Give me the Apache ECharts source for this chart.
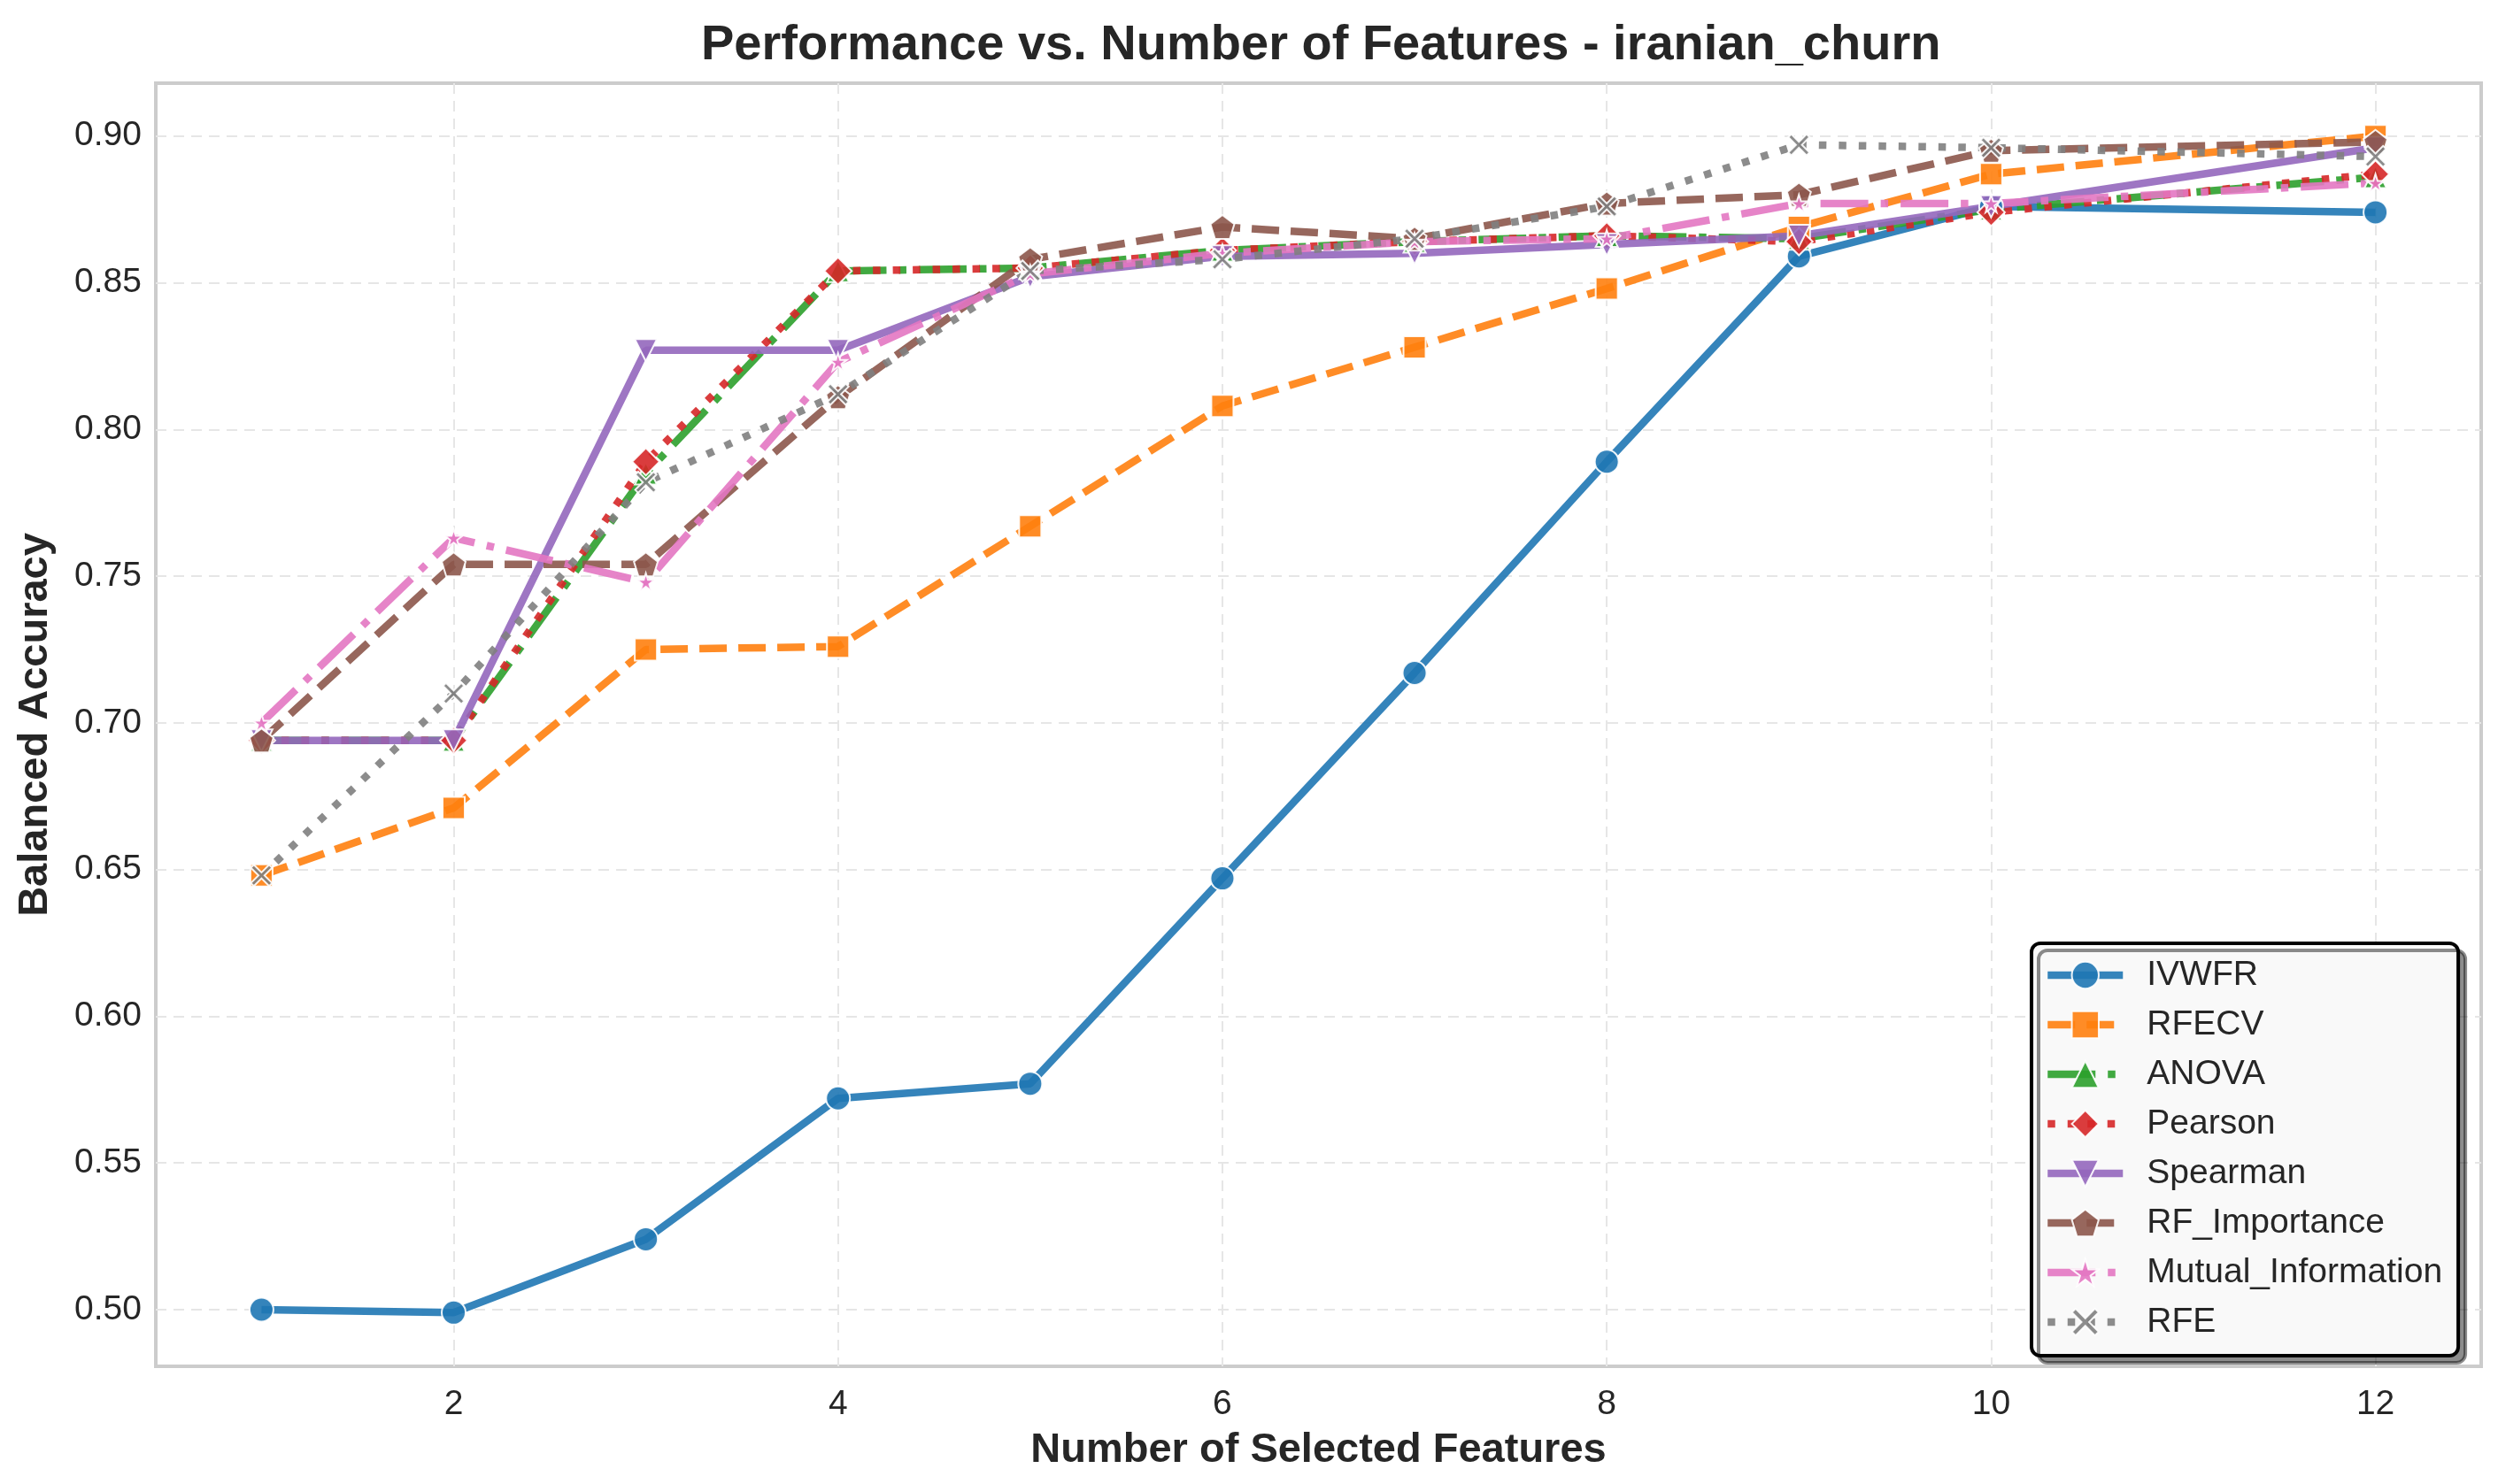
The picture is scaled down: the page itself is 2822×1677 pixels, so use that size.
<!DOCTYPE html>
<html>
<head>
<meta charset="utf-8">
<script src="https://cdn.jsdelivr.net/npm/echarts@6/dist/echarts.min.js"></script>
<style>
html,body{margin:0;padding:0;background:#fff;}
#chart{width:2822px;height:1677px;}
</style>
</head>
<body>
<div id="chart"></div>
<script>
const features = [1, 2, 3, 4, 5, 6, 7, 8, 9, 10, 12];
const IVWFR = [0.500, 0.499, 0.524, 0.572, 0.577, 0.647, 0.717, 0.789, 0.859, 0.876, 0.874];
const RFECV = [0.648, 0.671, 0.725, 0.726, 0.767, 0.808, 0.828, 0.848, 0.869, 0.887, 0.900];
const ANOVA = [0.694, 0.694, 0.785, 0.854, 0.855, 0.861, 0.864, 0.866, 0.865, 0.875, 0.886];
const Pearson = [0.694, 0.694, 0.789, 0.854, 0.855, 0.861, 0.864, 0.866, 0.864, 0.874, 0.887];
const Spearman = [0.694, 0.694, 0.827, 0.827, 0.852, 0.859, 0.860, 0.863, 0.866, 0.876, 0.896];
const RF_Importance = [0.694, 0.754, 0.754, 0.811, 0.858, 0.869, 0.865, 0.877, 0.880, 0.895, 0.898];
const Mutual_Information = [0.700, 0.763, 0.748, 0.823, 0.853, 0.860, 0.864, 0.865, 0.877, 0.877, 0.884];
const RFE = [0.648, 0.710, 0.782, 0.812, 0.854, 0.858, 0.865, 0.876, 0.897, 0.896, 0.893];
const xTicks = [2, 4, 6, 8, 10, 12];
const yTicks = [0.50, 0.55, 0.60, 0.65, 0.70, 0.75, 0.80, 0.85, 0.90];

const FONT = 'Liberation Sans, Arial, sans-serif';
const LW = 8.5;
const DASH = [31, 13];
const DOT = [8.5, 14];
const DASHDOT = [54, 14, 8.5, 14];
const PENTAGON = 'path://M0,-1 L0.951,-0.309 L0.588,0.809 L-0.588,0.809 L-0.951,-0.309 Z';
const STAR = 'path://M0,-1 L0.2245,-0.309 L0.951,-0.309 L0.363,0.118 L0.588,0.809 L0,0.382 L-0.588,0.809 L-0.363,0.118 L-0.951,-0.309 L-0.2245,-0.309 Z';
const XMARK = 'path://M-1,-0.72 L-0.72,-1 L0,-0.28 L0.72,-1 L1,-0.72 L0.28,0 L1,0.72 L0.72,1 L0,0.28 L-0.72,1 L-1,0.72 L-0.28,0 Z';

const defs = [
  {name: 'IVWFR', data: IVWFR, color: '#1f77b4', type: 'solid', symbol: 'circle', size: 27},
  {name: 'RFECV', data: RFECV, color: '#ff7f0e', type: DASH, symbol: 'rect', size: 25},
  {name: 'ANOVA', data: ANOVA, color: '#2ca02c', type: DASHDOT, symbol: 'triangle', size: 25},
  {name: 'Pearson', data: Pearson, color: '#d62728', type: DOT, symbol: 'diamond', size: 31},
  {name: 'Spearman', data: Spearman, color: '#9467bd', type: 'solid', symbol: 'triangle', size: 25, rotate: 180},
  {name: 'RF_Importance', data: RF_Importance, color: '#8c564b', type: DASH, symbol: PENTAGON, size: 27},
  {name: 'Mutual_Information', data: Mutual_Information, color: '#e377c2', type: DASHDOT, symbol: STAR, size: 20},
  {name: 'RFE', data: RFE, color: '#7f7f7f', type: DOT, symbol: XMARK, size: 24}
];

const series = defs.map(d => ({
  name: d.name,
  type: 'line',
  data: features.map((f, i) => [f, d.data[i]]),
  symbol: d.symbol,
  symbolSize: d.size,
  symbolRotate: d.rotate || 0,
  showAllSymbol: true,
  lineStyle: {color: d.color, width: LW, type: d.type, opacity: 0.9, cap: 'butt'},
  itemStyle: {color: d.color, borderColor: '#ffffff', borderWidth: 2, opacity: 0.9},
  emphasis: {disabled: true},
  animation: false
}));

const chart = echarts.init(document.getElementById('chart'), null, {renderer: 'canvas'});
chart.setOption({
  backgroundColor: '#ffffff',
  animation: false,
  title: {
    text: 'Performance vs. Number of Features - iranian_churn',
    left: 787,
    top: 19,
    textStyle: {fontFamily: FONT, fontSize: 56, fontWeight: 'bold', color: '#262626'}
  },
  grid: {
    left: 176, right: 19, top: 94, bottom: 133,
    show: true, borderColor: '#cccccc', borderWidth: 4, backgroundColor: '#ffffff'
  },
  legend: {
    orient: 'vertical',
    left: 2295,
    top: 1066,
    padding: [14, 18, 16, 14],
    itemWidth: 85,
    itemHeight: 38,
    itemGap: 12,
    backgroundColor: '#f9f9f9',
    borderColor: '#000000',
    borderWidth: 4,
    borderRadius: 10,
    shadowColor: 'rgba(0,0,0,0.45)',
    shadowOffsetX: 8,
    shadowOffsetY: 8,
    shadowBlur: 0,
    lineStyle: {width: 8.5},
    textStyle: {fontFamily: FONT, fontSize: 39, color: '#262626', padding: [0, 0, 0, 22], lineHeight: 44},
    data: defs.map(d => d.name)
  },
  xAxis: {
    type: 'value',
    min: 0.45,
    max: 12.55,
    name: 'Number of Selected Features',
    nameLocation: 'middle',
    nameGap: 72,
    nameTextStyle: {fontFamily: FONT, fontSize: 47, fontWeight: 'bold', color: '#262626'},
    axisLine: {show: false},
    axisTick: {show: false, customValues: xTicks},
    axisLabel: {customValues: xTicks, fontFamily: FONT, fontSize: 39, color: '#262626', margin: 24},
    splitLine: {show: true, lineStyle: {color: '#e6e6e6', width: 2, type: [12, 8]}}
  },
  yAxis: {
    type: 'value',
    min: 0.4807,
    max: 0.918,
    name: 'Balanced Accuracy',
    nameLocation: 'middle',
    nameGap: 112,
    nameTextStyle: {fontFamily: FONT, fontSize: 47, fontWeight: 'bold', color: '#262626'},
    axisLine: {show: false},
    axisTick: {show: false, customValues: yTicks},
    axisLabel: {customValues: yTicks, fontFamily: FONT, fontSize: 39, color: '#262626', margin: 16,
      formatter: v => v.toFixed(2)},
    splitLine: {show: true, lineStyle: {color: '#e6e6e6', width: 2, type: [12, 8]}}
  },
  series: series
});
</script>
</body>
</html>
